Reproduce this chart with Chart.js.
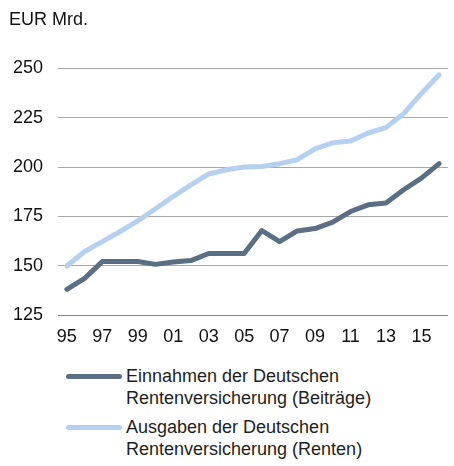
<!DOCTYPE html>
<html>
<head>
<meta charset="utf-8">
<script src="https://cdn.jsdelivr.net/npm/chart.js@4/dist/chart.umd.min.js"></script>
<style>
  html, body { margin: 0; padding: 0; background: #fff; }
  body { width: 454px; height: 466px; position: relative; overflow: hidden; font-family: 'Liberation Sans', Arial, sans-serif; }
  #wrap { position: absolute; left: 0; top: 0; width: 454px; height: 359px; }
  .sample { position: absolute; left: 66px; width: 56px; height: 5px; border-radius: 2.5px; }
  .ltext { position: absolute; left: 126px; font-size: 18px; line-height: 22px; color: #1e1e1e; white-space: nowrap; }
</style>
</head>
<body>
<div id="wrap"><canvas id="c"></canvas></div>
<div id="legend"></div>
<script>
const years = ['95','96','97','98','99','00','01','02','03','04','05','06','07','08','09','10','11','12','13','14','15','16'];
const einnahmen = [138.2,143.7,152.2,152.2,152.2,150.8,152.0,152.7,156.3,156.3,156.3,167.9,162.3,167.7,168.9,172.1,177.5,180.9,181.8,188.5,194.4,201.7];
const ausgaben = [150.0,157.3,162.3,167.4,172.8,178.9,185.1,191.0,196.5,198.6,200.0,200.3,201.7,203.7,209.2,212.2,213.1,217.2,219.9,227.0,237.2,246.6];
const seriesNames = [
  ['Einnahmen der Deutschen', 'Rentenversicherung (Beiträge)'],
  ['Ausgaben der Deutschen', 'Rentenversicherung (Renten)']
];
const colors = ['#5b6f84', '#b5d1ef'];
const yMin = 125, yMax = 250, yStep = 25;
const unitLabel = 'EUR Mrd.';

const font = { family: "'Liberation Sans', Arial, sans-serif", size: 18, weight: 'normal' };

new Chart(document.getElementById('c'), {
  type: 'line',
  data: {
    labels: years,
    datasets: [
      { label: seriesNames[0].join(' '), data: einnahmen, borderColor: colors[0], backgroundColor: colors[0] },
      { label: seriesNames[1].join(' '), data: ausgaben, borderColor: colors[1], backgroundColor: colors[1] }
    ]
  },
  options: {
    responsive: true,
    maintainAspectRatio: false,
    animation: false,
    devicePixelRatio: 1,
    layout: { padding: { left: 9, right: 6, top: 0, bottom: 0 } },
    elements: {
      line: { borderWidth: 5, tension: 0, borderCapStyle: 'round', borderJoinStyle: 'round' },
      point: { radius: 0, hoverRadius: 0 }
    },
    plugins: {
      legend: { display: false },
      tooltip: { enabled: false },
      title: {
        display: true, text: unitLabel, align: 'start', color: '#111',
        font: font, padding: { top: 9, bottom: 37.5 }
      }
    },
    scales: {
      x: {
        offset: true,
        grid: { display: false, drawTicks: false },
        border: { display: false },
        ticks: {
          autoSkip: false, maxRotation: 0, minRotation: 0, padding: 11, color: '#111', font: font,
          callback: function(v, i) { return i % 2 === 0 ? this.getLabelForValue(v) : ''; }
        }
      },
      y: {
        min: yMin, max: yMax,
        afterFit: function(scale) { scale.width = 49; },
        grid: {
          drawTicks: false, lineWidth: 1,
          color: function(ctx) { return ctx.tick && ctx.tick.value === yMin ? '#858585' : '#a8a8a8'; }
        },
        border: { display: false },
        ticks: { stepSize: yStep, padding: 15, color: '#111', font: font }
      }
    }
  }
});

// HTML legend
const legend = document.getElementById('legend');
const sampleCenters = [376, 427.3];
const textTops = [365, 416.3];
seriesNames.forEach((lines, i) => {
  const s = document.createElement('div');
  s.className = 'sample';
  s.style.top = (sampleCenters[i] - 2.5) + 'px';
  s.style.background = colors[i];
  legend.appendChild(s);
  const t = document.createElement('div');
  t.className = 'ltext';
  t.style.top = textTops[i] + 'px';
  t.innerHTML = lines.join('<br>');
  legend.appendChild(t);
});
</script>
</body>
</html>
